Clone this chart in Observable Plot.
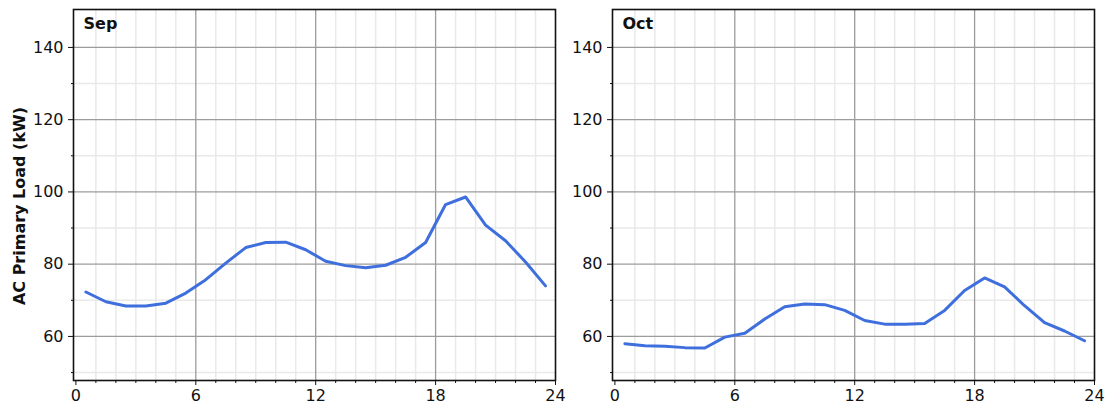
<!DOCTYPE html>
<html>
<head>
<meta charset="utf-8">
<script src="https://cdn.jsdelivr.net/npm/d3@7"></script>
<script src="https://cdn.jsdelivr.net/npm/@observablehq/plot@0.6"></script>
<style>
  html, body { margin: 0; padding: 0; background: #fff; }
  #wrap { position: relative; width: 1107px; height: 412px; overflow: hidden; background: #fff; }
  #left, #right { position: absolute; top: 0; }
  #left { left: 0; }
  #right { left: 560px; }
  #ytitle { position: absolute; left: -130px; top: 196px; width: 300px; height: 20px; line-height: 20px;
    text-align: center; transform: rotate(-90deg); transform-origin: 150px 10px;
    font-family: "DejaVu Sans", sans-serif; font-weight: bold; font-size: 16px; color: #111; white-space: nowrap; }
</style>
</head>
<body>
<div id="wrap">
  <div id="left"></div>
  <div id="right"></div>
  <div id="ytitle"></div>
</div>
<script>
const hours = [0.5,1.5,2.5,3.5,4.5,5.5,6.5,7.5,8.5,9.5,10.5,11.5,12.5,13.5,14.5,15.5,16.5,17.5,18.5,19.5,20.5,21.5,22.5,23.5];
const sepLoad = [72.3,69.6,68.4,68.4,69.2,72.0,75.7,80.3,84.6,86.0,86.1,84.0,80.8,79.6,79.0,79.7,81.9,86.0,96.5,98.6,90.8,86.5,80.6,74.0];
const octLoad = [58.0,57.4,57.3,56.9,56.8,59.8,60.9,64.8,68.2,69.0,68.8,67.2,64.4,63.4,63.4,63.6,67.2,72.7,76.2,73.7,68.5,63.8,61.5,58.8];
const months = ["Sep", "Oct"];
const yTitle = "AC Primary Load (kW)";
const xMajorTicks = [0, 6, 12, 18, 24];
const xMinorTicks = [1,2,3,4,5,7,8,9,10,11,13,14,15,16,17,19,20,21,22,23];
const yMajorTicks = [60, 80, 100, 120, 140];
const yMinorTicks = [50, 70, 90, 110, 130];

const lineColor = "#3f6fdd";
const font = "DejaVu Sans, sans-serif";

function panel(label, values, {width, marginLeft, marginRight}) {
  const data = hours.map((h, i) => ({hour: h, load: values[i]}));
  return Plot.plot({
    width, height: 412,
    marginTop: 9, marginBottom: 32, marginLeft, marginRight,
    style: {fontFamily: font, fontSize: "16px", background: "transparent", color: "#111", overflow: "visible"},
    x: {domain: [-0.12, 24], axis: null},
    y: {domain: [47.8, 150.5], axis: null},
    marks: [
      Plot.gridX(xMinorTicks, {stroke: "#e9e9e9", strokeOpacity: 1, strokeWidth: 1.5}),
      Plot.gridY(yMinorTicks, {stroke: "#e9e9e9", strokeOpacity: 1, strokeWidth: 1.5}),
      Plot.gridX([6, 12, 18], {stroke: "#9c9c9c", strokeOpacity: 1, strokeWidth: 1.3}),
      Plot.gridY(yMajorTicks, {stroke: "#9c9c9c", strokeOpacity: 1, strokeWidth: 1.3}),
      Plot.line(data, {x: "hour", y: "load", stroke: lineColor, strokeWidth: 3}),
      Plot.frame({stroke: "#111", strokeWidth: 1.6}),
      Plot.axisX(xMajorTicks, {tickSize: 5, tickPadding: 4, fontSize: 16, label: null, stroke: "#111"}),
      Plot.axisX(xMinorTicks, {tickSize: 3, tickFormat: () => "", label: null, stroke: "#111"}),
      Plot.axisY(yMajorTicks, {tickSize: 5, tickPadding: 5, fontSize: 16, label: null, stroke: "#111"}),
      Plot.axisY(yMinorTicks, {tickSize: 2, tickFormat: () => "", label: null, stroke: "#111"}),
      Plot.text([label], {frameAnchor: "top-left", dx: 10, dy: 8, lineAnchor: "top", textAnchor: "start",
        fontWeight: "bold", fontSize: 16, fill: "#111"})
    ]
  });
}

document.getElementById("left").append(panel(months[0], sepLoad, {width: 560, marginLeft: 73, marginRight: 5}));
document.getElementById("right").append(panel(months[1], octLoad, {width: 547, marginLeft: 52, marginRight: 13}));
document.getElementById("ytitle").textContent = yTitle;
</script>
</body>
</html>
